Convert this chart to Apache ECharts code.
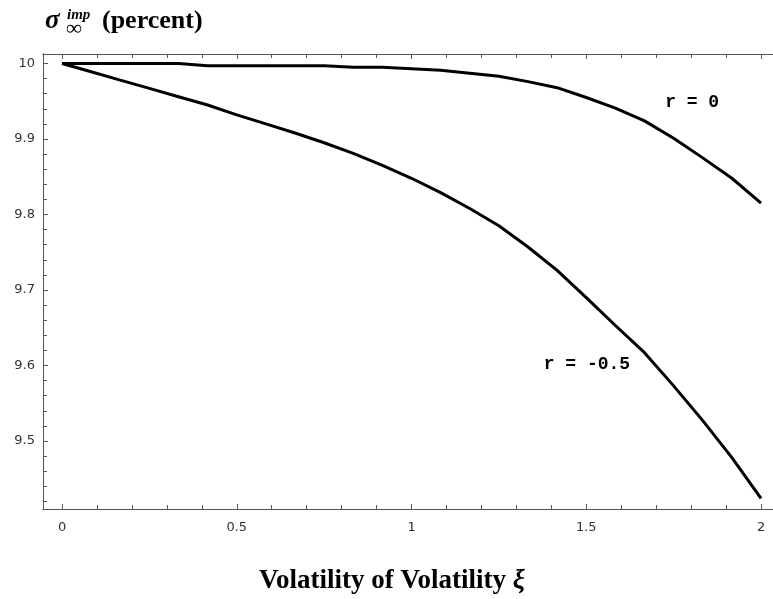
<!DOCTYPE html>
<html>
<head>
<meta charset="utf-8">
<script src="https://cdn.jsdelivr.net/npm/echarts@6/dist/echarts.min.js"></script>
<style>html,body{margin:0;padding:0;background:#fff}#c{width:773px;height:599px}</style>
</head>
<body>
<div id="c"></div>
<script>
// Volatility of volatility xi, sampled at k/12
const xi = [0, 1/12, 2/12, 3/12, 4/12, 5/12, 6/12, 7/12, 8/12, 9/12, 10/12, 11/12, 1,
            13/12, 14/12, 15/12, 16/12, 17/12, 18/12, 19/12, 20/12, 21/12, 22/12, 23/12, 2];
const sigmaR0 = [10, 10, 10, 10, 10, 9.997, 9.997, 9.997, 9.997, 9.997, 9.995, 9.995, 9.993,
                 9.991, 9.987, 9.983, 9.976, 9.968, 9.955, 9.941, 9.924, 9.901, 9.875, 9.848, 9.815];
const sigmaRm05 = [10, 9.989, 9.978, 9.967, 9.956, 9.945, 9.932, 9.920, 9.908, 9.895, 9.881, 9.865, 9.848,
                   9.829, 9.808, 9.785, 9.757, 9.726, 9.690, 9.653, 9.617, 9.573, 9.527, 9.478, 9.424];
const seriesNames = ['r = 0', 'r = -0.5'];
const labelX = [1.803, 1.502];
const labelY = [9.948, 9.601];
const xTickLabels = [0, 0.5, 1, 1.5, 2];
const yTickLabels = [9.5, 9.6, 9.7, 9.8, 9.9, 10];

const xMin = -0.0544, xMax = 2.0343, yMin = 9.40993, yMax = 10.01258;
const xMinor = []; for (let i = 0; i <= 20; i++) xMinor.push(i / 10);
const yMinor = []; for (let i = 0; i <= 29; i++) yMinor.push(Math.round((9.42 + i * 0.02) * 100) / 100);

const axisCol = '#555';
const lblStyle = { fontFamily: 'DejaVu Sans', fontSize: 13, color: '#333' };

function xAx(pos, values, len, labels) {
  return {
    type: 'value', position: pos, min: xMin, max: xMax,
    axisLine: { show: true, onZero: false, lineStyle: { color: axisCol, width: 1 } },
    axisTick: { show: true, inside: true, length: len, customValues: values, lineStyle: { color: axisCol } },
    axisLabel: labels ? Object.assign({ show: true, margin: 12, customValues: values }, lblStyle) : { show: false },
    splitLine: { show: false }
  };
}
function yAx(values, len, labels) {
  return {
    type: 'value', position: 'left', min: yMin, max: yMax,
    axisLine: { show: true, onZero: false, lineStyle: { color: axisCol, width: 1 } },
    axisTick: { show: true, inside: true, length: len, customValues: values, lineStyle: { color: axisCol } },
    axisLabel: labels ? Object.assign({ show: true, margin: 8, customValues: values }, lblStyle) : { show: false },
    splitLine: { show: false }
  };
}

const chart = echarts.init(document.getElementById('c'), null, { renderer: 'canvas' });
const serif = '"Liberation Serif", "Times New Roman", serif';
chart.setOption({
  animation: false,
  backgroundColor: '#fff',
  grid: { left: 43, right: 0, top: 54, bottom: 90 },
  xAxis: [
    xAx('bottom', xTickLabels, 5, true),
    xAx('bottom', xMinor, 4, false),
    xAx('top', xTickLabels, 5, false),
    xAx('top', xMinor, 4, false)
  ],
  yAxis: [
    yAx(yTickLabels, 5, true),
    yAx(yMinor, 4, false)
  ],
  graphic: [
    { type: 'text', x: 45, y: 21, style: { text: 'σ', font: 'italic bold 27px ' + serif, fill: '#000', verticalAlign: 'middle' } },
    { type: 'text', x: 67, y: 15, style: { text: 'imp', font: 'italic bold 15px ' + serif, fill: '#000', verticalAlign: 'middle' } },
    { type: 'text', x: 66, y: 29, style: { text: '∞', font: 'bold 22px ' + serif, fill: '#000', verticalAlign: 'middle' } },
    { type: 'text', x: 102, y: 21, style: { text: '(percent)', font: 'bold 26px ' + serif, fill: '#000', verticalAlign: 'middle' } },
    { type: 'text', x: 392, y: 581, style: {
        text: '{a|Volatility of Volatility }{b|ξ}', align: 'center', verticalAlign: 'middle',
        rich: {
          a: { fontFamily: serif, fontWeight: 'bold', fontSize: 27, fill: '#000', color: '#000' },
          b: { fontFamily: serif, fontWeight: 'bold', fontStyle: 'italic', fontSize: 27, fill: '#000', color: '#000' }
        } } }
  ],
  series: [sigmaR0, sigmaRm05].map((vals, s) => ({
    type: 'line', name: seriesNames[s], xAxisIndex: 0, yAxisIndex: 0,
    data: xi.map((x, i) => [x, vals[i]]),
    showSymbol: false, smooth: false,
    lineStyle: { color: '#000', width: 3 },
    markPoint: {
      symbol: 'circle', symbolSize: 0,
      data: [{ name: seriesNames[s], coord: [labelX[s], labelY[s]] }],
      label: { show: true, position: 'inside', formatter: seriesNames[s],
               fontFamily: '"Liberation Mono", monospace', fontWeight: 'bold', fontSize: 18, color: '#000' }
    }
  }))
});
</script>
</body>
</html>
